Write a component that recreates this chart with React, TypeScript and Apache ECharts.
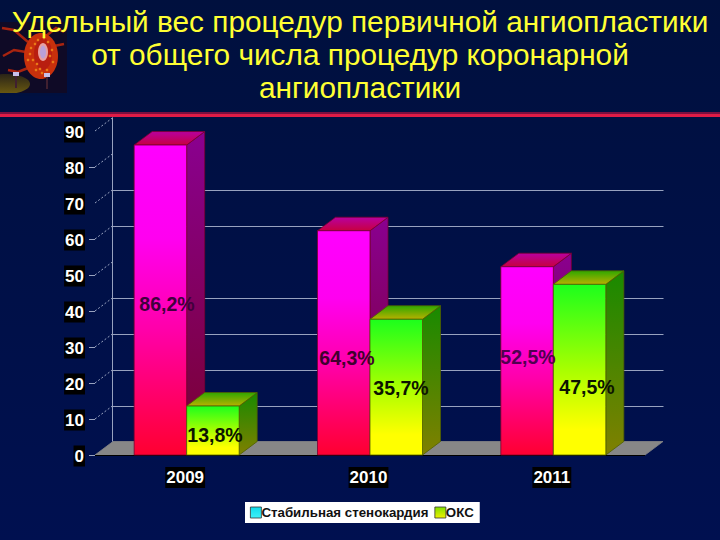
import React, { useEffect, useRef } from "react";
import * as echarts from "echarts";

const titleLines = [
  "Удельный вес процедур первичной ангиопластики",
  "от общего числа процедур коронарной",
  "ангиопластики",
];
const categories = ["2009", "2010", "2011"];
const seriesNames = ["Стабильная стенокардия", "ОКС"];
const stableValues = [86.1, 62.3, 52.3];
const acsValues = [13.6, 37.7, 47.4];
const wallTicks = [0, 10, 20, 30, 40, 50, 60, 70, 80, 90];
const drawnGridlines = [10, 20, 30, 40, 60, 70];
const pointLabels = ["86,2%", "13,8%", "64,3%", "35,7%", "52,5%", "47,5%"];

const DX = 18;
const DY = 13.5;
const BAR_W = 52.5;
const FONT = '"Liberation Sans", Arial, sans-serif';

const grad = (...colors: (string | [number, string])[]) =>
  new echarts.graphic.LinearGradient(
    0,
    0,
    0,
    1,
    colors.map((c, i) =>
      Array.isArray(c)
        ? { offset: c[0], color: c[1] }
        : { offset: i / (colors.length - 1), color: c }
    )
  );

const poly = (points: number[][], fill: any, stroke: string) => ({
  type: "polygon",
  shape: { points },
  style: { fill, stroke, lineWidth: 0.8 },
});

const bar3d = (side: number, c: { front: any[]; side: string[]; top: string[]; edge: string }) =>
  (_: any, api: any) => {
    const base = api.coord([api.value(0), 0]);
    const top = api.coord([api.value(0), api.value(1)]);
    const x0 = base[0] + (side === 0 ? -BAR_W : 0);
    const x1 = x0 + BAR_W;
    const y0 = base[1];
    const y1 = top[1];
    return {
      type: "group",
      children: [
        poly([[x1, y0], [x1 + DX, y0 - DY], [x1 + DX, y1 - DY], [x1, y1]], grad(c.side[0], c.side[1]), c.edge),
        poly([[x0, y1], [x1, y1], [x1 + DX, y1 - DY], [x0 + DX, y1 - DY]], grad(c.top[0], c.top[1]), c.edge),
        poly([[x0, y0], [x1, y0], [x1, y1], [x0, y1]], grad(...c.front), c.edge),
      ],
    };
  };

const renderWall = (params: any, api: any) => {
  const v = api.value(1);
  const cs = params.coordSys;
  const y = Math.round(api.coord([0, v])[1]);
  const left = cs.x;
  const right = cs.x + cs.width;
  const children: any[] = [];
  const lineStyle = { stroke: "#98a2bf", lineWidth: 1 };
  if (v === 0) {
    children.push(
      poly([[left, y], [left + DX, y - DY], [right + DX, y - DY], [right, y]], "#878787", "#878787"),
      { type: "line", shape: { x1: left, y1: y + 0.5, x2: right, y2: y + 0.5 }, style: { stroke: "#000", lineWidth: 1 } },
      { type: "line", shape: { x1: left + DX - 0.5, y1: y - DY, x2: left + DX - 0.5, y2: api.coord([0, 90])[1] - DY }, style: lineStyle }
    );
  } else {
    children.push({
      type: "line",
      shape: { x1: left, y1: y, x2: left + DX, y2: y - DY },
      style: { stroke: "#98a2bf", lineWidth: 1, lineDash: [2, 2] },
    });
  }
  if (v !== 90 && v !== 70) {
    children.push({ type: "line", shape: { x1: left - 6, y1: y + 0.5, x2: left, y2: y + 0.5 }, style: lineStyle });
  }
  if (drawnGridlines.includes(v)) {
    children.push({
      type: "line",
      shape: { x1: left + DX, y1: y - 13 + 0.5, x2: right + DX + 0.5, y2: y - 13 + 0.5 },
      style: lineStyle,
    });
  }
  return { type: "group", children };
};

const labelText = (i: number, x: number, y: number, fill: string) => ({
  type: "text",
  z: 20,
  x,
  y,
  style: {
    text: pointLabels[i],
    fill,
    font: `bold 19.5px ${FONT}`,
    align: "center",
    verticalAlign: "middle",
  },
});

const heart = () => {
  const dots = [
    [31, 48], [33, 60], [36, 70], [48, 42], [52, 50], [53, 62], [47, 70], [38, 40], [42, 73], [30, 54],
    [35, 44], [37, 64], [50, 56], [44, 38], [28, 60], [40, 69],
  ];
  const strands = [
    [[28, 42], [14, 30], [2, 28]],
    [[26, 52], [14, 50], [3, 56]],
    [[46, 36], [56, 28], [64, 32]],
    [[54, 46], [64, 44]],
    [[28, 68], [18, 72], [8, 70]],
  ];
  return {
    type: "group",
    children: [
      { type: "rect", shape: { x: 0, y: 22, width: 67, height: 72 }, style: { fill: "#0f0a26" } },
      { type: "ellipse", shape: { cx: 6, cy: 84, rx: 24, ry: 10 }, style: { fill: grad("#2a2418", "#6b5a10") } },
      { type: "rect", shape: { x: 0, y: 93, width: 67, height: 3 }, style: { fill: "#00103f" } },
      ...strands.map((points) => ({
        type: "polyline",
        shape: { points },
        style: { stroke: "#a82410", lineWidth: 2.5, fill: "none" },
      })),
      { type: "ellipse", shape: { cx: 41, cy: 56, rx: 17, ry: 23 }, style: { fill: "#c8300c" } },
      { type: "ellipse", shape: { cx: 43, cy: 54, rx: 9, ry: 16 }, style: { fill: "#b81e10" } },
      ...dots.map(([cx, cy]) => ({
        type: "circle",
        shape: { cx, cy, r: 1.3 },
        style: { fill: "#ea7a18" },
      })),
      { type: "ellipse", shape: { cx: 43, cy: 52, rx: 5, ry: 9 }, style: { fill: "#e8a0a0" } },
      { type: "ellipse", shape: { cx: 43, cy: 52, rx: 3, ry: 6.5 }, style: { fill: "#b9a0d8" } },
      { type: "rect", shape: { x: 15, y: 74, width: 2, height: 14 }, style: { fill: "#402030" } },
      { type: "rect", shape: { x: 13, y: 72, width: 6, height: 4 }, style: { fill: "#c8c0e8" } },
      { type: "rect", shape: { x: 46, y: 76, width: 2, height: 13 }, style: { fill: "#402030" } },
      { type: "rect", shape: { x: 44, y: 73, width: 6, height: 4 }, style: { fill: "#c8c0e8" } },
    ],
  };
};

export default function App() {
  const ref = useRef<HTMLDivElement>(null);
  useEffect(() => {
    const chart = echarts.init(ref.current!, null, { renderer: "svg" });
    chart.setOption({
      animation: false,
      backgroundColor: grad("#00103e", "#001050"),
      title: {
        text: titleLines.join("\n"),
        left: 355,
        top: 0,
        textAlign: "center",
        textStyle: {
          color: "#ffff33",
          fontFamily: FONT,
          fontWeight: "normal",
          fontSize: 29.8,
          lineHeight: 33,
        },
      },
      grid: { left: 95, top: 131, width: 550, height: 324 },
      legend: {
        left: 245,
        top: 502,
        padding: [4, 6, 4, 5],
        backgroundColor: "#ffffff",
        itemWidth: 11,
        itemHeight: 11,
        itemGap: 6,
        icon: "rect",
        data: [
          { name: seriesNames[0], itemStyle: { color: grad("#10dcec", "#40f0f8"), borderColor: "#333", borderWidth: 0.8 } },
          { name: seriesNames[1], itemStyle: { color: grad("#80e000", "#f0f000"), borderColor: "#333", borderWidth: 0.8 } },
        ],
        textStyle: { color: "#111", fontFamily: FONT, fontWeight: "bold", fontSize: 13.3, padding: [0, 0, 0, -5] },
      },
      xAxis: {
        type: "category",
        data: categories,
        axisLine: { show: false },
        axisTick: { show: false },
        axisLabel: {
          formatter: "{a|{value}}",
          margin: 12,
          padding: [0, 3, 0, 0],
          rich: {
            a: {
              color: "#fff",
              fontFamily: FONT,
              fontWeight: "bold",
              fontSize: 17,
              backgroundColor: "#000",
              padding: [2, 1, 2, 1],
            },
          },
        },
      },
      yAxis: {
        type: "value",
        min: 0,
        max: 90,
        interval: 10,
        axisLine: { show: false },
        axisTick: { show: false },
        splitLine: { show: false },
        axisLabel: {
          formatter: "{a|{value}}",
          margin: 10,
          padding: [2, 0, 0, 0],
          rich: {
            a: {
              color: "#fff",
              fontFamily: FONT,
              fontWeight: "bold",
              fontSize: 17,
              backgroundColor: "#000",
              padding: [2, 1, 2, 1],
            },
          },
        },
      },
      graphic: [
        { type: "rect", shape: { x: 0, y: 112, width: 720, height: 2 }, style: { fill: "#7a1040" } },
        { type: "rect", shape: { x: 0, y: 114, width: 720, height: 3 }, style: { fill: "#e01c46" } },
        heart(),
        labelText(0, 167, 304, "#40003c"),
        labelText(1, 215, 435, "#0c1400"),
        labelText(2, 347, 358, "#40002e"),
        labelText(3, 401, 388, "#0c1400"),
        labelText(4, 528, 357, "#500050"),
        labelText(5, 587, 387, "#0c1400"),
      ],
      series: [
        {
          type: "custom",
          name: "wall",
          coordinateSystem: "cartesian2d",
          renderItem: renderWall,
          encode: { x: 0, y: 1 },
          silent: true,
          z: 1,
          data: wallTicks.map((v) => [0, v]),
        },
        {
          type: "custom",
          name: seriesNames[0],
          renderItem: bar3d(0, {
            front: [[0, "#ff00ff"], [0.3, "#ff00f0"], [0.6, "#ff00a8"], [1, "#ff0030"]],
            side: ["#8a0090", "#7a0030"],
            top: ["#b800a0", "#c80040"],
            edge: "#7a0030",
          }),
          encode: { x: 0, y: 1 },
          z: 2,
          data: stableValues.map((v, i) => [i, v]),
        },
        {
          type: "custom",
          name: seriesNames[1],
          renderItem: bar3d(1, {
            front: [[0, "#1cff1c"], [0.5, "#a8ff00"], [0.85, "#ffff00"], [1, "#ffff00"]],
            side: ["#188a00", "#808000"],
            top: ["#30a800", "#b8b000"],
            edge: "#506000",
          }),
          encode: { x: 0, y: 1 },
          z: 3,
          data: acsValues.map((v, i) => [i, v]),
        },
      ],
    });
    return () => chart.dispose();
  }, []);
  return <div ref={ref} style={{ position: "fixed", left: 0, top: 0, width: 720, height: 540 }} />;
}
